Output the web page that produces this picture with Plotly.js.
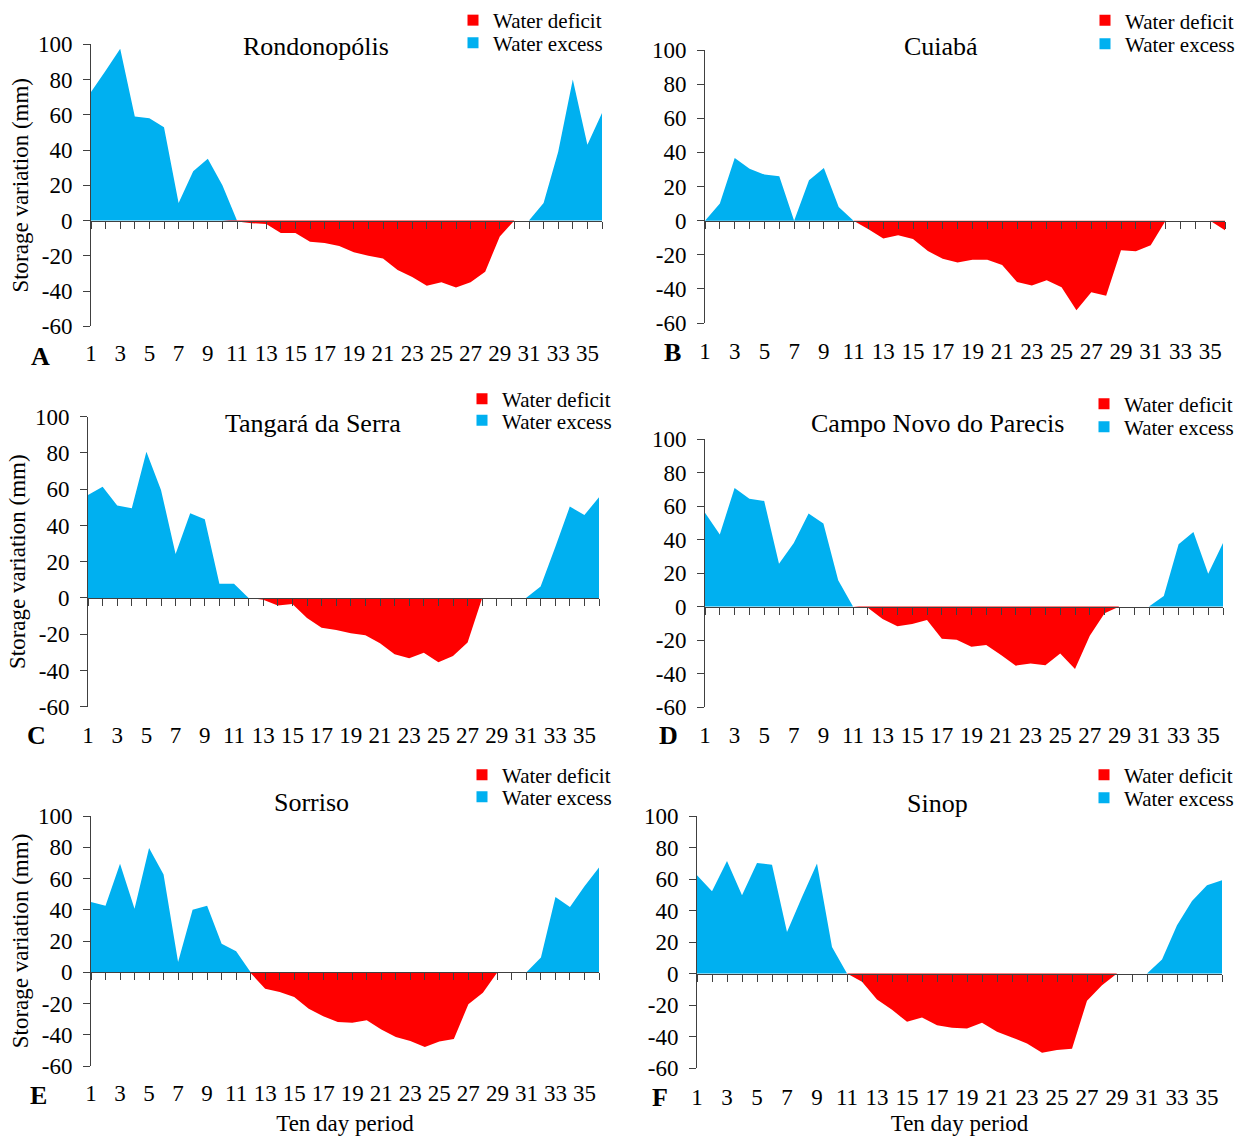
<!DOCTYPE html>
<html>
<head>
<meta charset="utf-8">
<script src="https://cdn.plot.ly/plotly-3.0.1.min.js"></script>
<style>
html,body{margin:0;padding:0;background:#fff;}
#chart{width:1237px;height:1136px;}
</style>
</head>
<body>
<div id="chart"></div>
<script>
// ---------------- DATA ----------------
const periods = [1,2,3,4,5,6,7,8,9,10,11,12,13,14,15,16,17,18,19,20,21,22,23,24,25,26,27,28,29,30,31,32,33,34,35,36];
const xTickVals = [1,3,5,7,9,11,13,15,17,19,21,23,25,27,29,31,33,35];
const xTickText = ['1','3','5','7','9','11','13','15','17','19','21','23','25','27','29','31','33','35'];
const yTickVals = [-60,-40,-20,0,20,40,60,80,100];
const yTickText = ['-60','-40','-20','0','20','40','60','80','100'];
const stations = ['Rondonopólis','Cuiabá','Tangará da Serra','Campo Novo do Parecis','Sorriso','Sinop'];
const panelLetters = ['A','B','C','D','E','F'];
const seriesNames = ['Water deficit','Water excess'];

const rondonopolisExcess = [73,85,97.5,59,58,53,10,28,35,20,0, 0,0,0,0,0,0,0,0,0,0, 0,0,0,0,0,0,0,0,0,0, 10,39,80,43,61];
const rondonopolisDeficit = [0,0,0,0,0,0,0,0,0,0, -0.5,-1.5,-2,-7,-7,-12,-12.7,-14.5,-18,-20, -21.5,-28,-32,-37,-35,-38,-35,-29,-9,0, 0,0,0,0,0,0];

const cuiabaExcess = [0,10,36.7,30.4,27,26,0,23.6,30.8,8,0, 0,0,0,0,0,0,0,0,0,0, 0,0,0,0,0,0,0,0,0,0, 0,0,0,0,0];
const cuiabaDeficit = [0,0,0,0,0,0,0,0,0,0,0, -5,-10.5,-8.6,-10.7,-17.8,-22.4,-24.6,-23,-23, -26,-36,-38,-35,-39,-52.5,-42,-44,-17.4,-18, -14.4,0,0,0,0,-5.6];

const tangaraExcess = [56.8,61.4,51,49.5,80.7,59.6,24.3,46.7,43.4,7.9,7.9,0, 0,0,0,0,0,0,0,0,0,0, 0,0,0,0,0,0,0,0,0, 6.3,28,50.4,45.8,55.5];
const tangaraDeficit = [0,0,0,0,0,0,0,0,0,0,0,0, -1,-4.2,-3.3,-11,-16.4,-17.7,-19.5,-20.6, -25,-31,-33.3,-30.2,-35.5,-32,-24.6,0, 0,0,0,0,0,0,0,0];

const campoNovoExcess = [55.9,43,70.8,64.4,63,25.5,37.9,55.5,49.5,15.6,0, 0,0,0,0,0,0,0,0,0,0, 0,0,0,0,0,0,0,0,0,0, 6.2,37.1,44.5,19.6,37.9];
const campoNovoDeficit = [0,0,0,0,0,0,0,0,0,0,0, -0.8,-7.4,-11.8,-10.4,-8,-19.2,-19.8,-24,-23, -29,-35.3,-34,-35,-28,-37.3,-17.4,-4,0,0, 0,0,0,0,0,0];

const sorrisoExcess = [45,42.5,69.5,40.7,79.6,62.5,6.6,40,42.5,18.3,13.4,0, 0,0,0,0,0,0,0,0,0,0, 0,0,0,0,0,0,0,0,0, 9.4,48.2,41.8,55,67];
const sorrisoDeficit = [0,0,0,0,0,0,0,0,0,0,0, -0.5,-10.5,-12.6,-15.8,-23.3,-28.2,-31.8,-32.4,-30.7, -36.7,-41.4,-44,-47.8,-44.4,-42.7,-20.5,-13.2,0,0, 0,0,0,0,0,0];

const sinopExcess = [62.4,52.2,71.5,49.7,70.2,69.1,26.4,48.6,69.8,16.9,0, 0,0,0,0,0,0,0,0,0,0, 0,0,0,0,0,0,0,0,0,0, 8.9,30.7,46,56,59.2];
const sinopDeficit = [0,0,0,0,0,0,0,0,0,0,0, -5.3,-16.5,-23,-30.7,-27.9,-32.8,-34.5,-34.9,-31.3, -37,-40.6,-44.4,-50.3,-48.6,-47.8,-17.3,-7.4,0,0, 0,0,0,0,0,0];

const excessSeries = [rondonopolisExcess, cuiabaExcess, tangaraExcess, campoNovoExcess, sorrisoExcess, sinopExcess];
const deficitSeries = [rondonopolisDeficit, cuiabaDeficit, tangaraDeficit, campoNovoDeficit, sorrisoDeficit, sinopDeficit];

// ---------------- LAYOUT GEOMETRY (pixels) ----------------
const W = 1237, H = 1136;
const px = v => v / W;
const py = v => 1 - v / H;
const boxes = [
  {l:91,  r:602,  t:44.3,  b:326.3, labelY:354,  title:[316,46],  letter:[40,356],  legText:493,  rows:[21.5,44],    ytitle:true,  xtitle:false},
  {l:705, r:1225, t:50,    b:323,   labelY:352,  title:[941,46],  letter:[672,353], legText:1125, rows:[21.7,45],    ytitle:false, xtitle:false},
  {l:88,  r:599,  t:416.7, b:706.7, labelY:735,  title:[313,423], letter:[36,735],  legText:502,  rows:[400,421.7],  ytitle:true,  xtitle:false},
  {l:705, r:1223, t:439,   b:707,   labelY:735,  title:[937,423], letter:[668,735], legText:1124, rows:[405,428],    ytitle:false, xtitle:false},
  {l:91,  r:599,  t:816,   b:1066,  labelY:1093, title:[311,802], letter:[38,1095], legText:502,  rows:[776,798],    ytitle:true,  xtitle:true},
  {l:697, r:1222, t:816,   b:1068,  labelY:1097, title:[937,803], letter:[660,1097],legText:1124, rows:[776,799],    ytitle:false, xtitle:true}
];
const FONT = '"Liberation Serif", "Times New Roman", Times, serif';
const AXIS_COLOR = '#404040';
const BLUE = '#00B0F0';
const RED = '#FF0000';

const traces = [];
const layout = {
  width: W, height: H,
  margin: {l:0, r:0, t:0, b:0, autoexpand:false},
  paper_bgcolor: '#fff', plot_bgcolor: 'rgba(0,0,0,0)',
  font: {family: FONT, color: '#000', size: 23},
  showlegend: true,
  annotations: []
};

boxes.forEach((bx, i) => {
  const n = i + 1;
  const sfx = n === 1 ? '' : String(n);
  const xName = 'x' + sfx, yName = 'y' + sfx;
  const zeroPx = bx.t + (100 / 160) * (bx.b - bx.t);

  // area traces
  traces.push({
    type: 'scatter', mode: 'none', x: periods, y: excessSeries[i],
    fill: 'tozeroy', fillcolor: BLUE, line: {width: 0},
    xaxis: xName, yaxis: yName, showlegend: false, hoverinfo: 'x+y'
  });
  traces.push({
    type: 'scatter', mode: 'none', x: periods, y: deficitSeries[i],
    fill: 'tozeroy', fillcolor: RED, line: {width: 0},
    xaxis: xName, yaxis: yName, showlegend: false, hoverinfo: 'x+y'
  });

  // legend entries (one legend per row so the row spacing follows the reference)
  const legA = 'legend' + (2*i + 1 === 1 ? '' : String(2*i + 1));
  const legB = 'legend' + String(2*i + 2);
  const legColors = [RED, BLUE];
  [legA, legB].forEach((lg, k) => {
    traces.push({
      type: 'scatter', mode: 'markers', x: [null], y: [null],
      name: seriesNames[k], legend: lg,
      marker: {symbol: 'square', size: 11, color: legColors[k]},
      xaxis: xName, yaxis: yName, showlegend: true, hoverinfo: 'skip'
    });
    layout[lg] = {
      x: px(bx.legText - 40), xanchor: 'left',
      y: py(bx.rows[k] - 21.5), yanchor: 'top',
      bgcolor: 'rgba(0,0,0,0)', borderwidth: 0,
      font: {family: FONT, size: 21, color: '#000'},
      itemwidth: 30, tracegroupgap: 0, itemclick: false, itemdoubleclick: false
    };
  });

  layout['xaxis' + sfx] = {
    domain: [px(bx.l), px(bx.r)],
    range: [1, 36], fixedrange: true,
    anchor: 'free', position: py(zeroPx),
    showline: true, linecolor: AXIS_COLOR, linewidth: 1,
    showgrid: false, zeroline: false,
    ticks: 'outside', ticklen: 7, tickwidth: 1, tickcolor: AXIS_COLOR,
    tickmode: 'array', tickvals: xTickVals, ticktext: xTickText,
    minor: {tickmode: 'array', tickvals: periods, ticks: 'outside', ticklen: 7, tickwidth: 1, tickcolor: AXIS_COLOR, showgrid: false},
    ticklabelstandoff: Math.round(bx.labelY - zeroPx - 28),
    tickfont: {family: FONT, size: 23, color: '#000'},
    title: bx.xtitle ? {text: 'Ten day period', font: {family: FONT, size: 23, color: '#000'}, standoff: 17} : {text: ''}
  };
  layout['yaxis' + sfx] = {
    domain: [py(bx.b), py(bx.t)],
    range: [-60, 100], fixedrange: true,
    anchor: xName,
    showline: true, linecolor: AXIS_COLOR, linewidth: 1,
    showgrid: false, zeroline: false,
    ticks: 'outside', ticklen: 7, tickwidth: 1, tickcolor: AXIS_COLOR,
    tickmode: 'array', tickvals: yTickVals, ticktext: yTickText,
    ticklabelstandoff: 6,
    tickfont: {family: FONT, size: 23, color: '#000'},
    title: bx.ytitle ? {text: 'Storage variation (mm)', font: {family: FONT, size: 23, color: '#000'}, standoff: 2} : {text: ''}
  };

  layout.annotations.push({
    xref: 'paper', yref: 'paper', x: px(bx.title[0]), y: py(bx.title[1]),
    xanchor: 'center', yanchor: 'middle', showarrow: false,
    text: stations[i], font: {family: FONT, size: 26, color: '#000'}
  });
  layout.annotations.push({
    xref: 'paper', yref: 'paper', x: px(bx.letter[0]), y: py(bx.letter[1]),
    xanchor: 'center', yanchor: 'middle', showarrow: false,
    text: '<b>' + panelLetters[i] + '</b>', font: {family: FONT, size: 26, color: '#000'}
  });
});

Plotly.newPlot('chart', traces, layout, {displayModeBar: false, staticPlot: false});
</script>
</body>
</html>
